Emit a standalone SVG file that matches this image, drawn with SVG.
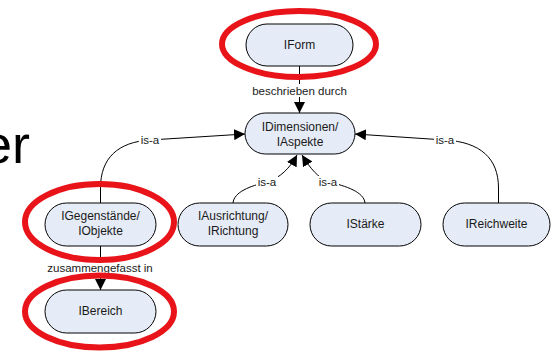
<svg xmlns="http://www.w3.org/2000/svg" width="560" height="352" viewBox="0 0 560 352">
  <defs>
    <marker id="arrow" viewBox="0 0 10 10" refX="10" refY="5" markerWidth="11" markerHeight="11" markerUnits="userSpaceOnUse" orient="auto">
      <path d="M0,0 L10,5 L0,10 Z" fill="#000"/>
    </marker>
  </defs>
  <style>
    .node rect { fill: #e6ecf7; stroke: #000; stroke-width: 1; }
    .node text { font-family: "Liberation Sans", Arial, sans-serif; font-size: 12px; fill: #1a1a1a; text-anchor: middle; }
    .edge { fill: none; stroke: #000; stroke-width: 1; }
    .lbl { font-family: "Liberation Sans", Arial, sans-serif; font-size: 11.5px; fill: #1a1a1a; text-anchor: middle; }
    .lblbg { fill: #fff; }
    .mark { fill: none; stroke: #e8141a; stroke-width: 6; }
  </style>

  <rect width="560" height="352" fill="#fff"/>

  <!-- slide title fragment, running off the left edge -->
  <text x="-18" y="163" font-family="Liberation Sans, Arial, sans-serif" font-size="54" fill="#000">er</text>

  <!-- connectors -->
  <g id="connectors">
    <line class="edge" x1="299.5" y1="66" x2="299.5" y2="113" marker-end="url(#arrow)"/>
    <rect class="lblbg" x="247" y="84" width="105" height="13"/>
    <text class="lbl" x="299.5" y="95">beschrieben durch</text>

    <line class="edge" x1="100.5" y1="246" x2="100.5" y2="290" marker-end="url(#arrow)"/>
    <rect class="lblbg" x="42" y="261" width="116" height="13"/>
    <text class="lbl" x="100" y="272">zusammengefasst in</text>

    <path class="edge" d="M100.5,203 L100.5,188 C100.5,158 118,142 150,140 L245,134" marker-end="url(#arrow)"/>
    <rect class="lblbg" x="139" y="134" width="22" height="12"/>
    <text class="lbl" x="150" y="144">is-a</text>

    <path class="edge" d="M498.5,203 L498.5,188 C498.5,158 480,142 445,140 L355,134" marker-end="url(#arrow)"/>
    <rect class="lblbg" x="434" y="134" width="22" height="12"/>
    <text class="lbl" x="445" y="144">is-a</text>

    <path class="edge" d="M233,203 C234,192 250,186 267,182 C280,178 290,168 297,155" marker-end="url(#arrow)"/>
    <rect class="lblbg" x="256" y="176" width="22" height="12"/>
    <text class="lbl" x="267" y="186">is-a</text>

    <path class="edge" d="M365,203 C364,192 346,186 329,182 C318,178 310,168 302,155" marker-end="url(#arrow)"/>
    <rect class="lblbg" x="317" y="176" width="22" height="12"/>
    <text class="lbl" x="328" y="186">is-a</text>
  </g>

  <!-- nodes -->
  <g id="IForm" class="node">
    <rect x="246" y="24" width="107" height="42" rx="21"/>
    <text x="299.5" y="49">IForm</text>
  </g>
  <g id="IDimensionen" class="node">
    <rect x="245" y="113" width="110" height="41" rx="20.5"/>
    <text x="300" y="131">IDimensionen/</text>
    <text x="300" y="146">IAspekte</text>
  </g>
  <g id="IGegenstaende" class="node">
    <rect x="45" y="203" width="111" height="43" rx="21.5"/>
    <text x="100.5" y="220">IGegenstände/</text>
    <text x="100.5" y="235">IObjekte</text>
  </g>
  <g id="IAusrichtung" class="node">
    <rect x="178" y="203" width="110" height="43" rx="21.5"/>
    <text x="233" y="220">IAusrichtung/</text>
    <text x="233" y="235">IRichtung</text>
  </g>
  <g id="IStaerke" class="node">
    <rect x="310" y="203" width="111" height="43" rx="21.5"/>
    <text x="365.5" y="228">IStärke</text>
  </g>
  <g id="IReichweite" class="node">
    <rect x="443" y="203" width="107" height="43" rx="21.5"/>
    <text x="496.5" y="228">IReichweite</text>
  </g>
  <g id="IBereich" class="node">
    <rect x="45" y="290" width="111" height="43" rx="21.5"/>
    <text x="100.5" y="315">IBereich</text>
  </g>

  <!-- highlight rings -->
  <g id="highlights">
    <ellipse class="mark" cx="299" cy="44" rx="77" ry="33"/>
    <ellipse class="mark" cx="99.5" cy="222" rx="74.5" ry="38"/>
    <ellipse class="mark" cx="99.5" cy="311.5" rx="74.5" ry="36"/>
  </g>
</svg>
